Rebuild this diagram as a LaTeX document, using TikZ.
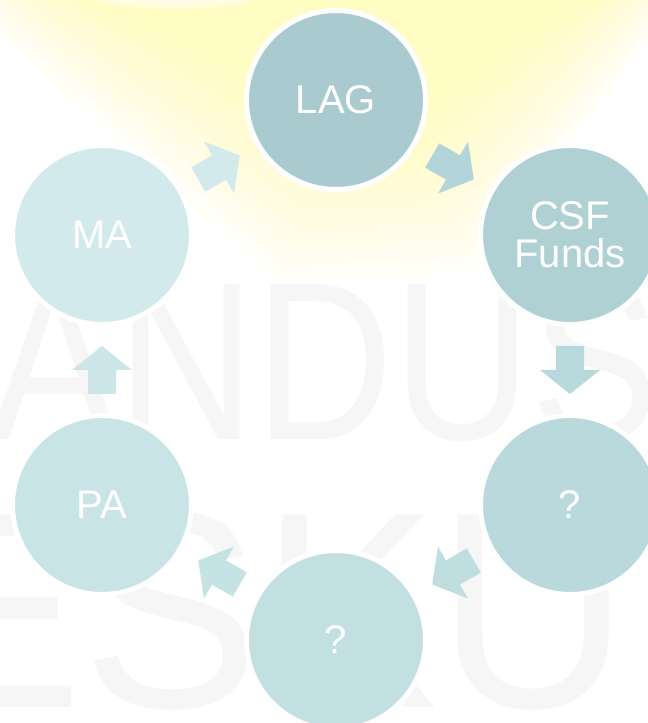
\documentclass[tikz,border=0pt]{standalone}
\usepackage{fontspec}
\setmainfont{Liberation Sans}
\usetikzlibrary{calc}
\definecolor{lagcol}{HTML}{A9CBCF}
\definecolor{csfcol}{HTML}{AFD1D4}
\definecolor{qrcol}{HTML}{B9D9DC}
\definecolor{qbcol}{HTML}{C2E0E2}
\definecolor{pacol}{HTML}{C9E4E6}
\definecolor{macol}{HTML}{D2EAEC}
\definecolor{arrowa}{HTML}{B3D5D9}
\definecolor{arrowb}{HTML}{B7D9DC}
\definecolor{arrowc}{HTML}{BEDEE0}
\definecolor{arrowd}{HTML}{C5E3E5}
\definecolor{arrowe}{HTML}{CCE6E8}
\definecolor{arrowf}{HTML}{D3EAEC}
\definecolor{glowcol}{HTML}{FFFC9C}
\definecolor{wmcol}{HTML}{F6F6F6}
\newcommand{\cyclearrow}[4]{\fill[#4, shift={($(#1)!0.5!(#2)$)}, rotate=#3] (-24,-14) -- (0,-14) -- (0,-30) -- (24,0) -- (0,30) -- (0,14) -- (-24,14) -- cycle;}

\begin{document}
\begin{tikzpicture}[x=1pt, y=1pt,
    stage/.style={circle, draw=white, line width=5pt, minimum size=179pt, inner sep=0pt,
      text=white, align=center, font=\fontsize{40}{38}\selectfont},
    wmtext/.style={text=wmcol, inner sep=0pt, anchor=base west}]
  \fill[white] (0,0) rectangle (648,723);
  \useasboundingbox (0,0) rectangle (648,723);
  \foreach \k in {0,...,9}
    \fill[glowcol, opacity=0.08] ({-40+130*\k/9},723) -- ({680-90*\k/9},723)
      -- ({470-60*\k/9},{450+150*\k/9}) -- ({280+50*\k/9},{440+160*\k/9}) -- cycle;
  \fill[white, opacity=0.5] (175,725) ellipse (80 and 10);
  \node[wmtext, font=\fontsize{225}{225}\selectfont, xscale=0.85] (wmtop) at (-10,283) {ANDUS};
  \node[wmtext, font=\fontsize{280}{280}\selectfont, xscale=0.95] (wmbottom) at (-95,16) {ESKU};

  \node[stage, fill=lagcol] (lag) at (336,623) {LAG};
  \node[stage, fill=csfcol] (csf) at (570,488) {CSF\\Funds};
  \node[stage, fill=qrcol] (qright) at (570,218) {?};
  \node[stage, fill=qbcol] (qbottom) at (336,83) {?};
  \node[stage, fill=pacol] (pa) at (102,218) {PA};
  \node[stage, fill=macol] (ma) at (102,488) {MA};

  \cyclearrow{lag}{csf}{-30}{arrowa}
  \cyclearrow{csf}{qright}{-90}{arrowb}
  \cyclearrow{qright}{qbottom}{-150}{arrowc}
  \cyclearrow{qbottom}{pa}{150}{arrowd}
  \cyclearrow{pa}{ma}{90}{arrowe}
  \cyclearrow{ma}{lag}{30}{arrowf}
\end{tikzpicture}
\end{document}
